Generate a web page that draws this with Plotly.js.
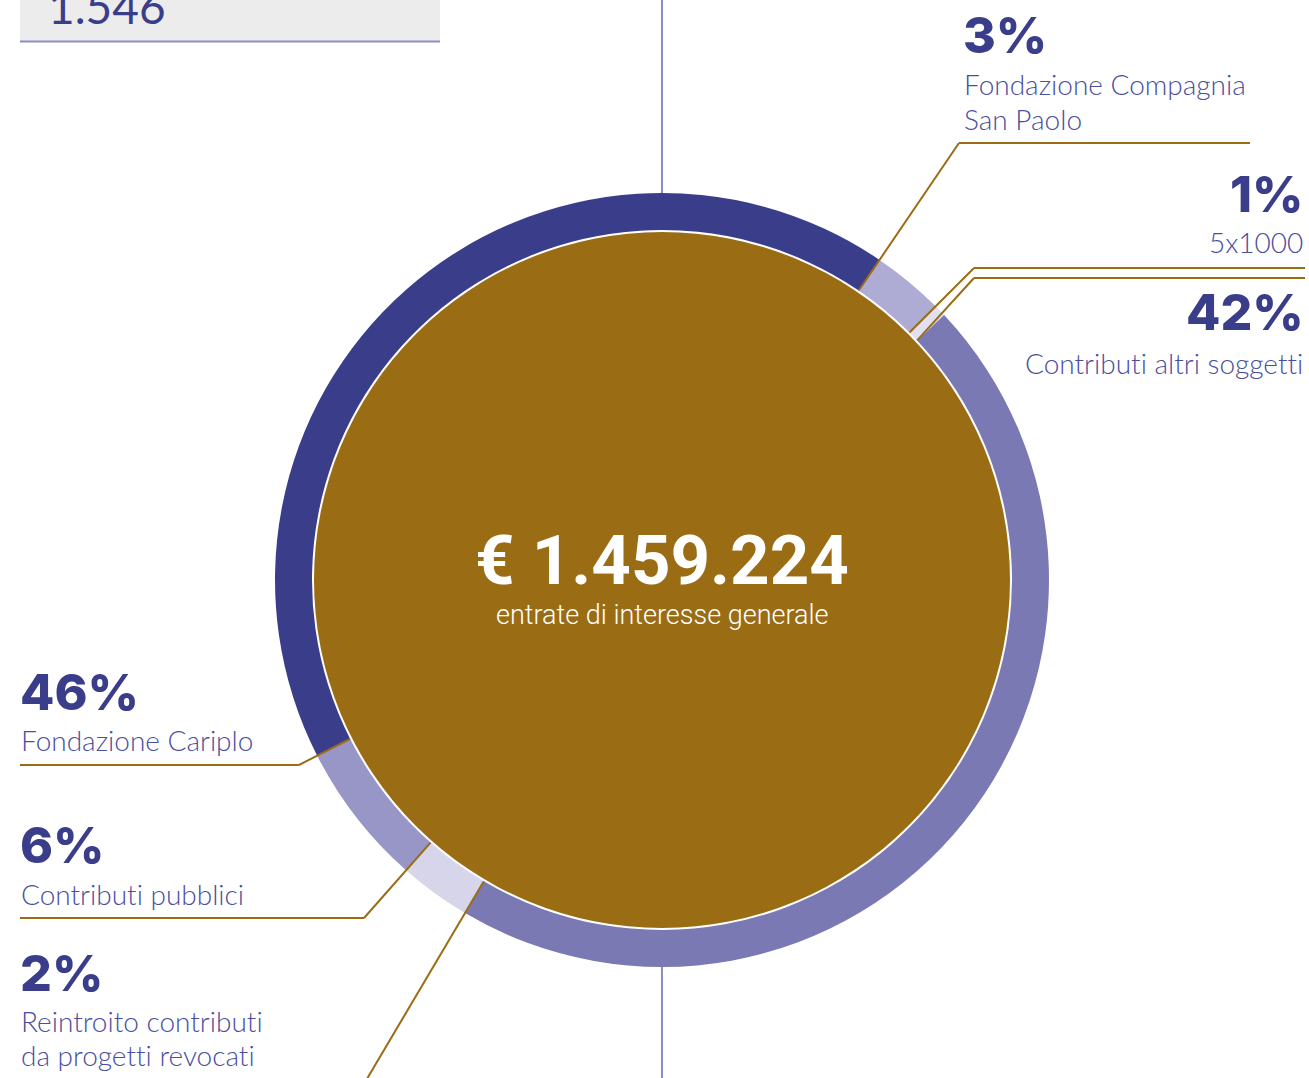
<!DOCTYPE html>
<html>
<head>
<meta charset="utf-8">
<script src="https://cdn.plot.ly/plotly-3.0.1.min.js"></script>
<style>
  html, body { margin: 0; padding: 0; background: #ffffff; }
  #chart { width: 1309px; height: 1078px; }
  text { font-variant-ligatures: none; font-feature-settings: "liga" 0, "calt" 0; }
</style>
</head>
<body>
<div id="chart"></div>
<script>
// ---------- data ----------
const categories = [
  'Fondazione Cariplo',
  'Fondazione Compagnia San Paolo',
  '5x1000',
  'Contributi altri soggetti',
  'Reintroito contributi da progetti revocati',
  'Contributi pubblici'
];
// percentages printed next to each slice
const labelPct = [46, 3, 1, 42, 2, 6];
// arc sizes as they are drawn in the ring (clockwise, starting at the Cariplo slice)
const ringShares = [42, 3, 0.5, 45.5, 3, 6];
const totalValue = '€ 1.459.224';
const totalCaption = 'entrate di interesse generale';
const topBoxValue = '1.546';
// label lines (multi-line descriptions)
const labelLines = [
  ['Fondazione Cariplo'],
  ['Fondazione Compagnia', 'San Paolo'],
  ['5x1000'],
  ['Contributi altri soggetti'],
  ['Reintroito contributi', 'da progetti revocati'],
  ['Contributi pubblici']
];

// ---------- styles / layout constants ----------
const ringColors = ['#3a3e8a', '#aeabd4', '#e2e0f0', '#7a79b4', '#d7d5ea', '#9896c7'];
const GOLD = '#9a6c14';
const NAVY = '#3a3e8a';
const TEXT = '#4a4e9e';
const W = 1309, H = 1078;
const cx = 662, cy = 580, R = 387, Rin = 350, Rgold = 348;
const ROT = 243;

function px(x) { return x / W; }
function py(y) { return 1 - y / H; }
function domainFor(r) {
  return { x: [px(cx - r), px(cx + r)], y: [py(cy + r), py(cy - r)] };
}

// boundary angles derived from the ring data
const total = ringShares.reduce((a, b) => a + b, 0);
const bounds = [];
let acc = 0;
for (let i = 0; i < ringShares.length; i++) {
  bounds.push(ROT + 360 * acc / total);
  acc += ringShares[i];
}
function polar(angleDeg, r) {
  const a = angleDeg * Math.PI / 180;
  return [cx + r * Math.sin(a), cy - r * Math.cos(a)];
}
function radialToY(angleDeg, y) {
  const a = angleDeg * Math.PI / 180;
  const r = (cy - y) / Math.cos(a);
  return polar(angleDeg, r);
}

const shapes = [];
function seg(p0, p1) {
  shapes.push({ type: 'line', xref: 'paper', yref: 'paper',
    x0: px(p0[0]), y0: py(p0[1]), x1: px(p1[0]), y1: py(p1[1]),
    line: { color: GOLD, width: 2 } });
}

// top-left grey box
shapes.push({ type: 'rect', xref: 'paper', yref: 'paper', layer: 'below',
  x0: px(20), x1: px(440), y0: py(41), y1: py(-20),
  fillcolor: '#ececec', line: { width: 0 } });
shapes.push({ type: 'line', xref: 'paper', yref: 'paper',
  x0: px(20), x1: px(440), y0: py(41.5), y1: py(41.5),
  line: { color: '#8a8cc2', width: 2 } });

// vertical axis line through the centre
shapes.push({ type: 'line', xref: 'paper', yref: 'paper', layer: 'below',
  x0: px(cx), x1: px(cx), y0: py(0), y1: py(cy - R + 1),
  line: { color: '#8a8cc6', width: 2 } });
shapes.push({ type: 'line', xref: 'paper', yref: 'paper', layer: 'below',
  x0: px(cx), x1: px(cx), y0: py(cy + R - 1), y1: py(H),
  line: { color: '#8a8cc6', width: 2 } });

// leader lines
// San Paolo (slice 1)
{
  const a = bounds[1];
  const p0 = polar(a, Rin), p1 = radialToY(a, 143);
  seg(p0, p1); seg(p1, [1250, 143]);
}
// 5x1000 (slice 2)
let bend2;
{
  const a = bounds[2];
  const p0 = polar(a, Rin), p1 = radialToY(a, 268);
  bend2 = p1;
  seg(p0, p1); seg(p1, [1305, 268]);
}
// altri soggetti (slice 3) - parallel to the 5x1000 line
{
  const a = bounds[3];
  const p0 = polar(a, Rin), p1 = [bend2[0], 278];
  seg(p0, p1); seg(p1, [1305, 278]);
}
// Cariplo (slice 0)
{
  const a = bounds[0];
  const p0 = polar(a, Rin), p1 = radialToY(a, 765);
  seg(p0, p1); seg(p1, [20, 765]);
}
// Contributi pubblici (slice 5)
{
  const a = bounds[5];
  const p0 = polar(a, Rin), p1 = radialToY(a, 918);
  seg(p0, p1); seg(p1, [20, 918]);
}
// Reintroito (slice 4) - runs off the bottom edge
{
  const a = bounds[4];
  const p0 = polar(a, Rin), p1 = radialToY(a, H + 20);
  seg(p0, p1);
}

// ---------- annotations ----------
const annotations = [];
function txt(text, x, y, anchor, size, weight, color, family) {
  annotations.push({ xref: 'paper', yref: 'paper', x: px(x), y: py(y),
    xanchor: anchor, yanchor: 'middle', showarrow: false, text: text,
    font: { family: family || 'Lato, sans-serif', size: size, weight: weight, color: color || TEXT } });
}
const PCT = 50, LBL = 28;
const PCT_FONT = 'Inter, sans-serif';
// label placement: [x, anchor, pctY, firstLineY, lineStep]
const labelPos = [
  [20, 'left', 692, 739.5, 34],
  [963, 'left', 35, 84, 35],
  [1305, 'right', 193.5, 241.5, 34],
  [1305, 'right', 311.5, 362.5, 34],
  [20, 'left', 972.5, 1021, 34],
  [20, 'left', 845, 894, 34]
];
for (let i = 0; i < categories.length; i++) {
  const [x, anc, yP, yL, step] = labelPos[i];
  const xp = anc === 'left' ? x - 2 : x + 1;
  txt(labelPct[i] + '%', xp, yP, anc, PCT, 800, NAVY, PCT_FONT);
  labelLines[i].forEach((line, k) => txt(line, x - (anc === 'left' ? 1 : 0), yL + k * step, anc, LBL, 300, TEXT));
}
// centre texts
txt(totalValue, cx, 560, 'center', 69, 700, '#ffffff', 'Roboto, sans-serif');
txt(totalCaption, cx, 615, 'center', 27, 300, '#ffffff', 'Roboto, sans-serif');
// top box value
txt(topBoxValue, 46, 7, 'left', 46, 400, NAVY, 'Lato, sans-serif');

// ---------- traces ----------
const ring = {
  type: 'pie', values: ringShares, labels: categories,
  sort: false, direction: 'clockwise', rotation: ROT,
  hole: Rin / R, domain: domainFor(R),
  marker: { colors: ringColors, line: { width: 0 } },
  textinfo: 'none', hoverinfo: 'skip', showlegend: false
};
const core = {
  type: 'pie', values: [1], labels: ['totale'],
  sort: false, domain: domainFor(Rgold),
  marker: { colors: [GOLD], line: { width: 0 } },
  textinfo: 'none', hoverinfo: 'skip', showlegend: false
};

const layout = {
  width: W, height: H,
  margin: { l: 0, r: 0, t: 0, b: 0 },
  paper_bgcolor: '#ffffff', plot_bgcolor: '#ffffff',
  showlegend: false, hovermode: false,
  shapes: shapes, annotations: annotations
};
Plotly.newPlot('chart', [core, ring], layout, { displayModeBar: false, staticPlot: true });
</script>
</body>
</html>
